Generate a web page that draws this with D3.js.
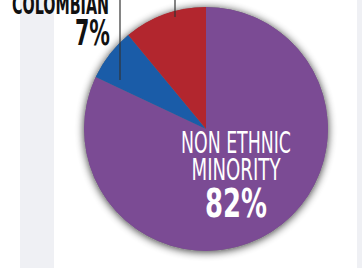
<!DOCTYPE html>
<html>
<head>
<meta charset="utf-8">
<script src="https://cdn.jsdelivr.net/npm/d3@7"></script>
<style>
  body { margin: 0; background: #fff; }
  svg { display: block; }
  text { font-family: 'Liberation Sans Narrow', 'DejaVu Sans Condensed', 'Liberation Sans', sans-serif; font-weight: bold; }
</style>
</head>
<body>
<svg id="chart"></svg>
<script>
const categories = ['Non ethnic minority', 'Colombian', 'Other ethnic minority'];
const values = [82, 7, 11];
const colors = ['#7b4b94', '#1a5ca8', '#b2262e'];
const labelLines = [['NON ETHNIC', 'MINORITY'], ['COLOMBIAN'], []];

const svgWidth = 362;
const svgHeight = 268;
const cx = 206;
const cy = 129;
const radius = 122;

const svg = d3.select('#chart')
  .attr('width', svgWidth)
  .attr('height', svgHeight);

// page bands
svg.append('rect').attr('x', 20).attr('y', 0).attr('width', 34).attr('height', svgHeight).attr('fill', '#eff0f4');
svg.append('rect').attr('x', 357).attr('y', 0).attr('width', 5).attr('height', svgHeight).attr('fill', '#eff0f4');

const defs = svg.append('defs');
const shadow = defs.append('filter').attr('id', 'shadow')
  .attr('x', '-20%').attr('y', '-20%').attr('width', '140%').attr('height', '140%');
shadow.append('feGaussianBlur').attr('in', 'SourceAlpha').attr('stdDeviation', 4).attr('result', 'blur');
shadow.append('feOffset').attr('in', 'blur').attr('dx', 0).attr('dy', 1).attr('result', 'off');
shadow.append('feComponentTransfer').attr('in', 'off').attr('result', 'soft')
  .append('feFuncA').attr('type', 'linear').attr('slope', 0.8);
const merge = shadow.append('feMerge');
merge.append('feMergeNode').attr('in', 'soft');
merge.append('feMergeNode').attr('in', 'SourceGraphic');

const pie = d3.pie().sort(null).value(d => d);
const arc = d3.arc().innerRadius(0).outerRadius(radius);
const arcs = pie(values);

const g = svg.append('g').attr('transform', `translate(${cx},${cy})`);

g.append('circle').attr('r', radius).attr('fill', '#777').attr('filter', 'url(#shadow)');

g.selectAll('path')
  .data(arcs)
  .enter().append('path')
  .attr('d', arc)
  .attr('fill', (d, i) => colors[i]);

// leader lines (blue and red slices)
svg.append('line').attr('x1', 120).attr('y1', -2).attr('x2', 120).attr('y2', 80)
  .attr('stroke', '#333').attr('stroke-width', 1.2);
svg.append('line').attr('x1', 175).attr('y1', -2).attr('x2', 175).attr('y2', 17)
  .attr('stroke', '#333').attr('stroke-width', 1.2);

// inside label
const inLabel = svg.append('g').attr('fill', '#fff').attr('text-anchor', 'middle');
inLabel.append('text').attr('x', 236).attr('y', 153).attr('font-size', 30)
  .style('font-weight', 'normal')
  .attr('textLength', 110).attr('lengthAdjust', 'spacingAndGlyphs').text(labelLines[0][0]);
inLabel.append('text').attr('x', 236).attr('y', 180).attr('font-size', 31)
  .style('font-weight', 'normal')
  .attr('textLength', 89).attr('lengthAdjust', 'spacingAndGlyphs').text(labelLines[0][1]);
inLabel.append('text').attr('x', 236).attr('y', 217).attr('font-size', 39)
  .attr('textLength', 62).attr('lengthAdjust', 'spacingAndGlyphs').text(values[0] + '%');

// outside label
const outLabel = svg.append('g').attr('fill', '#111').attr('text-anchor', 'end');
outLabel.append('text').attr('x', 109).attr('y', 14).attr('font-size', 26)
  .attr('textLength', 97).attr('lengthAdjust', 'spacingAndGlyphs').text(labelLines[1][0]);
outLabel.append('text').attr('x', 110).attr('y', 45).attr('font-size', 36)
  .attr('textLength', 35).attr('lengthAdjust', 'spacingAndGlyphs').text(values[1] + '%');
</script>
</body>
</html>
